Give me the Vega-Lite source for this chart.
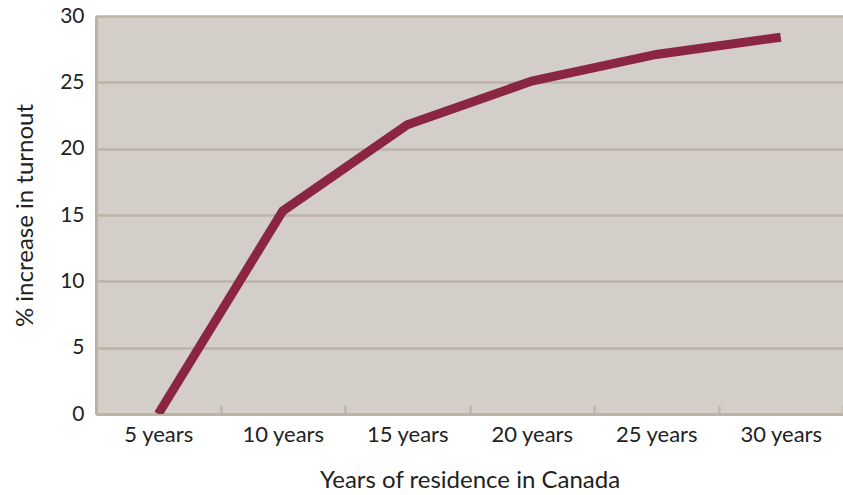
{
  "$schema": "https://vega.github.io/schema/vega-lite/v6.json",
  "autosize": {"type": "none"},
  "padding": {"left": 96, "top": 16, "right": 0, "bottom": 81},
  "width": 747,
  "height": 398,
  "background": "white",
  "config": {
    "font": "Lato",
    "view": {"fill": "#d3cec7", "stroke": null}
  },
  "data": {
    "values": [
      {"years": "5 years", "pct": 0},
      {"years": "10 years", "pct": 15.3},
      {"years": "15 years", "pct": 21.8},
      {"years": "20 years", "pct": 25.1},
      {"years": "25 years", "pct": 27.1},
      {"years": "30 years", "pct": 28.4}
    ]
  },
  "mark": {"type": "line", "color": "#8b2642", "strokeWidth": 9, "clip": true, "strokeCap": "butt", "strokeJoin": "miter"},
  "encoding": {
    "x": {
      "field": "years", "type": "ordinal", "sort": null,
      "scale": {"paddingInner": 0, "paddingOuter": 0},
      "axis": {
        "title": "Years of residence in Canada",
        "titleFontSize": 24, "titleFontWeight": "normal", "titleColor": "#222",
        "titlePadding": 23,
        "labelAngle": 0, "labelFontSize": 22, "labelColor": "#222", "labelPadding": 19,
        "domainColor": "#bcb3a7", "domainWidth": 3,
        "tickBand": "extent", "tickSize": -9, "tickColor": "#bcb3a7", "tickWidth": 2,
        "grid": false
      }
    },
    "y": {
      "field": "pct", "type": "quantitative",
      "scale": {"domain": [0, 30], "nice": false},
      "axis": {
        "title": "% increase in turnout",
        "titleFontSize": 24, "titleFontWeight": "normal", "titleColor": "#222",
        "titlePadding": 22,
        "values": [0, 5, 10, 15, 20, 25, 30],
        "labelFontSize": 21, "labelColor": "#222", "labelPadding": 12,
        "ticks": false,
        "domainColor": "#bcb3a7", "domainWidth": 3,
        "grid": true, "gridColor": "#bcb3a7", "gridWidth": 2.5, "gridOpacity": 1
      }
    }
  }
}
